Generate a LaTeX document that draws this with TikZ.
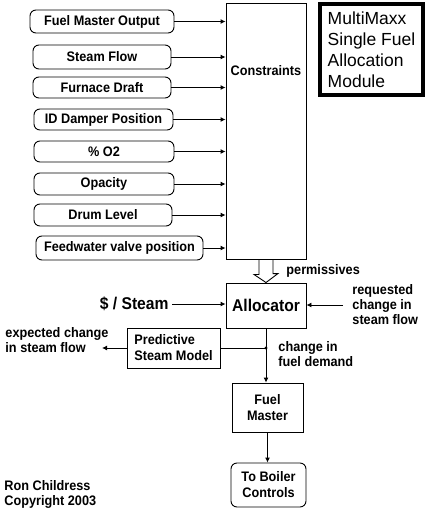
\documentclass[tikz,border=0pt]{standalone}
\usepackage{fontspec}
\setmainfont{Liberation Sans}
\newfontfamily\dlgfont[FakeStretch=0.92]{Liberation Sans}
\usetikzlibrary{arrows.meta,calc}

\tikzstyle{inbox} = [draw, rounded corners=6pt, inner sep=0pt, font=\dlgfont\bfseries\fontsize{13.8}{15}\selectfont]
\tikzstyle{blk} = [draw, inner sep=0pt, font=\dlgfont\bfseries\fontsize{13.8}{16}\selectfont]
\tikzstyle{lbl} = [inner sep=0pt, align=left, font=\dlgfont\bfseries\fontsize{13.8}{15}\selectfont]
\tikzstyle{big} = [font=\dlgfont\bfseries\fontsize{17}{18}\selectfont]
\tikzstyle{feed} = [-{Latex[length=5pt,width=5pt]}]

\begin{document}
\begin{tikzpicture}[x=1pt, y=-1pt, line width=0.9pt]
\useasboundingbox (0,0) rectangle (431,514);
%constraints
\node[blk, minimum width=80, minimum height=256] (cons) at (266,131) {};
\node[lbl] (conslbl) at (266,71) {Constraints};
%begin inputs
\node[inbox, minimum width=144, minimum height=23] (fmo) at (102,21.5) {Fuel Master Output};
\node[inbox, minimum width=138, minimum height=24] (sflow) at (102,57) {Steam Flow};
\node[inbox, minimum width=138, minimum height=21] (fdraft) at (102,87.5) {Furnace Draft};
\node[inbox, minimum width=139, minimum height=21] (iddamp) at (103.5,119.5) {ID Damper Position};
\node[inbox, minimum width=140, minimum height=21] (otwo) at (104,151.5) {\% O2};
\node[inbox, minimum width=140, minimum height=22] (opac) at (104,184) {Opacity};
\node[inbox, minimum width=138, minimum height=22] (drum) at (103,215) {Drum Level};
\node[inbox, minimum width=167, minimum height=24] (fwv) at (119.5,248) {Feedwater valve position};
\draw[feed] (fmo.east) -- (fmo.east -| cons.west);
\draw[feed] (sflow.east) -- (sflow.east -| cons.west);
\draw[feed] (fdraft.east) -- (fdraft.east -| cons.west);
\draw[feed] (iddamp.east) -- (iddamp.east -| cons.west);
\draw[feed] (otwo.east) -- (otwo.east -| cons.west);
\draw[feed] (opac.east) -- (opac.east -| cons.west);
\draw[feed] (drum.east) -- (drum.east -| cons.west);
\draw[feed] (fwv.east) -- (fwv.east -| cons.west);
%end inputs
%title
\node[draw, line width=3.5pt, minimum width=103, minimum height=91, inner sep=0pt, align=left,
      font=\fontsize{17.5}{21}\selectfont] (title) at (371.5,49.5) {MultiMaxx\\Single Fuel\\Allocation\\Module};
%allocator
\node[blk, big, minimum width=80, minimum height=45] (alloc) at (266,305.5) {Allocator};
\draw ($(cons.south)+(-7,0)$) -- ++(0,15) -- ++(-5,0) -- (alloc.north)
      -- ($(alloc.north)+(12,-9)$) -- ++(-5,0) -- ($(cons.south)+(7,0)$);
\node[lbl, anchor=west] (perm) at (286,271) {permissives};
\node[lbl, big, anchor=east, inner xsep=3pt] (cost) at (172,304) {\$ / Steam};
\draw[feed] (cost.east) -- (cost.east -| alloc.west);
\node[lbl, anchor=west] (req) at (352,305) {requested\\change in\\steam flow};
\draw[feed] ([xshift=-9pt]req.west) -- (req.west -| alloc.east);
%model
\node[blk, align=left, minimum width=93, minimum height=40] (psm) at (173.5,348) {Predictive\\Steam Model};
\coordinate (junc) at (alloc.south |- psm.east);
\fill (junc) circle (1.6);
\draw (junc) -- (psm.east);
\coordinate (expend) at (102,348);
\draw[feed] (psm.west) -- (expend);
\node[lbl, anchor=west] (expect) at (5,340) {expected change\\in steam flow};
\node[lbl, anchor=west] (dem) at (278,354.5) {change in\\fuel demand};
%fuel master
\node[blk, align=center, minimum width=71, minimum height=49] (fm) at (267.5,407.5) {Fuel\\Master};
\node[blk, rounded corners=6pt, align=center, minimum width=75, minimum height=44] (boiler) at (268.5,485) {To Boiler\\Controls};
\draw[feed] (alloc.south) -- (alloc.south |- fm.north);
\draw[feed] (fm.south) -- (fm.south |- boiler.north);
%copyright
\node[lbl, anchor=west] (author) at (4,494.5) {Ron Childress\\Copyright 2003};
\end{tikzpicture}
\end{document}
